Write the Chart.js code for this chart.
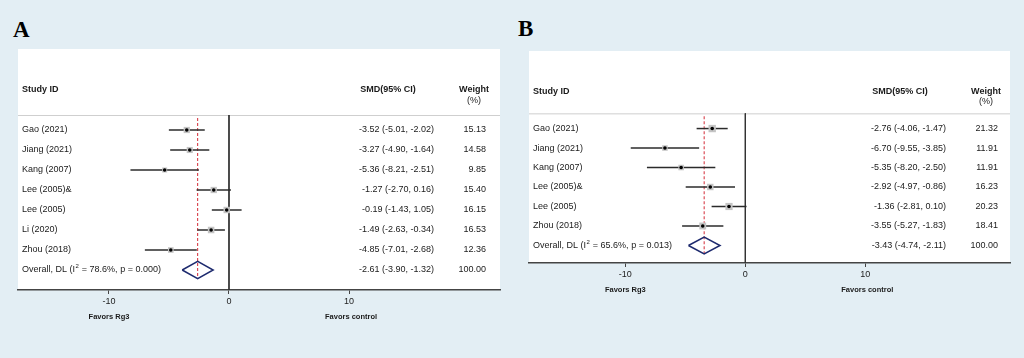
<!DOCTYPE html>
<html>
<head>
<meta charset="utf-8">
<script src="https://cdn.jsdelivr.net/npm/chart.js@4/dist/chart.umd.min.js"></script>
<style>
  body{margin:0;background:#e3eef4;width:1024px;height:358px;overflow:hidden;position:relative}
  canvas{position:absolute;top:0}
  .tag{position:absolute;font-family:"Liberation Serif",serif;font-weight:bold;font-size:23px;color:#000}
</style>
</head>
<body>
<div class="tag" style="left:13px;top:17px">A</div>
<div class="tag" style="left:518px;top:16px">B</div>
<canvas id="chartA" width="512" height="358" style="left:0"></canvas>
<canvas id="chartB" width="512" height="358" style="left:512px"></canvas>
<script>
// panel A
const studiesA=["Gao (2021)","Jiang (2021)","Kang (2007)","Lee (2005)&","Lee (2005)","Li (2020)","Zhou (2018)"]
const smdA=[-3.52,-3.27,-5.36,-1.27,-0.19,-1.49,-4.85]
const lowA=[-5.01,-4.90,-8.21,-2.70,-1.43,-2.63,-7.01]
const highA=[-2.02,-1.64,-2.51,0.16,1.05,-0.34,-2.68]
const weightA=[15.13,14.58,9.85,15.40,16.15,16.53,12.36]
const overallA=[-2.61,-3.90,-1.32]
const hetA=["78.6%","0.000"]

// panel B
const studiesB=["Gao (2021)","Jiang (2021)","Kang (2007)","Lee (2005)&","Lee (2005)","Zhou (2018)"]
const smdB=[-2.76,-6.70,-5.35,-2.92,-1.36,-3.55]
const lowB=[-4.06,-9.55,-8.20,-4.97,-2.81,-5.27]
const highB=[-1.47,-3.85,-2.50,-0.86,0.10,-1.83]
const weightB=[21.32,11.91,11.91,16.23,20.23,18.41]
const overallB=[-3.43,-4.74,-2.11]
const hetB=["65.6%","0.013"]

const xTicks=[-10,0,10]
const sideLabels=["Favors Rg3","Favors control"]

const FONT='"Liberation Sans", Arial, sans-serif'
const fmt=v=>v.toFixed(2)

const tablePlugin={
  id:'table',
  beforeDraw(chart){
    const {ctx,chartArea:a}=chart
    ctx.save()
    ctx.fillStyle='#fff'
    ctx.fillRect(a.left,a.top,a.right-a.left,a.bottom-a.top)
    const y=chart.scales.y.getPixelForValue(chart.options.plugins.table.lineAt)
    ctx.strokeStyle='#cfcfcf'
    ctx.lineWidth=1
    ctx.beginPath();ctx.moveTo(a.left,y+0.5);ctx.lineTo(a.right,y+0.5);ctx.stroke()
    ctx.restore()
  },
  afterDraw(chart){
    const o=chart.options.plugins.table
    const {ctx,chartArea:a}=chart
    const ys=chart.scales.y, xs=chart.scales.x
    ctx.save()
    ctx.fillStyle='#1a1a1a'
    ctx.textBaseline='middle'
    // header
    ctx.font='bold 9px '+FONT
    ctx.textAlign='left'
    ctx.fillText('Study ID',a.left+4,ys.getPixelForValue(o.headAt))
    ctx.textAlign='center'
    ctx.fillText('SMD(95% CI)',388,ys.getPixelForValue(o.headAt))
    ctx.fillText('Weight',474,ys.getPixelForValue(o.headAt))
    ctx.font='9px '+FONT
    ctx.fillText('(%)',474,ys.getPixelForValue(o.headAt+0.55))
    // rows
    ctx.font='9px '+FONT
    o.names.forEach((n,i)=>{
      const y=ys.getPixelForValue(i)
      ctx.textAlign='left'
      ctx.fillText(n,a.left+4,y)
      ctx.textAlign='right'
      ctx.fillText(fmt(o.smd[i])+' ('+fmt(o.low[i])+', '+fmt(o.high[i])+')',434,y)
      ctx.fillText(fmt(o.weight[i]),486,y)
    })
    // overall row
    const n=o.names.length
    const y=ys.getPixelForValue(n)
    ctx.textAlign='left'
    let x=a.left+4
    const p1='Overall, DL (I'
    ctx.fillText(p1,x,y); x+=ctx.measureText(p1).width
    ctx.font='6px '+FONT
    ctx.fillText('2',x+0.5,y-3.5); x+=ctx.measureText('2').width+1
    ctx.font='9px '+FONT
    ctx.fillText(' = '+o.het[0]+', p = '+o.het[1]+')',x,y)
    ctx.textAlign='right'
    ctx.fillText(fmt(o.overall[0])+' ('+fmt(o.overall[1])+', '+fmt(o.overall[2])+')',434,y)
    ctx.fillText('100.00',486,y)
    // favors labels
    ctx.font='bold 7.5px '+FONT
    ctx.textAlign='center'
    ctx.fillText(sideLabels[0],xs.getPixelForValue(xTicks[0]),a.bottom+26.5)
    ctx.fillText(sideLabels[1],xs.getPixelForValue(xTicks[2])+2,a.bottom+26.5)
    ctx.restore()
  }
}

function boxRadius(w){
  // box side grows with sqrt(weight); rect side = radius*sqrt(2)
  return 1.6*Math.sqrt(w)/Math.SQRT2
}

function makePanel(id,names,smd,low,high,weight,overall,het,pad,xMin,xMax,yMin,yMax,axisH,lineAt,headAt){
  const n=names.length
  const ciSets=names.map((s,i)=>({
    data:[{x:low[i],y:i},{x:high[i],y:i}],
    showLine:true,borderColor:'#2b2b2b',borderWidth:1.5,pointRadius:0,order:2
  }))
  const dh=0.43
  const datasets=[
    ...ciSets,
    {data:smd.map((v,i)=>({x:v,y:i})),pointStyle:'rect',pointRadius:weight.map(boxRadius),
      backgroundColor:'#c4c4c4',borderWidth:0,order:1},
    {data:smd.map((v,i)=>({x:v,y:i})),pointStyle:'circle',pointRadius:1.8,
      backgroundColor:'#000',borderWidth:0,order:0},
    {data:[{x:overall[1],y:n},{x:overall[0],y:n-dh},{x:overall[2],y:n},{x:overall[0],y:n+dh},{x:overall[1],y:n}],
      showLine:true,borderColor:'#1d2a6e',borderWidth:1.5,pointRadius:0,order:3},
    {data:[{x:0,y:lineAt},{x:0,y:yMax}],showLine:true,borderColor:'#333',borderWidth:1,pointRadius:0,order:5},
    {data:[{x:overall[0],y:lineAt+0.15},{x:overall[0],y:n+dh}],showLine:true,borderColor:'#d42a36',
      borderWidth:1,borderDash:[3,2],pointRadius:0,order:4}
  ]
  return new Chart(document.getElementById(id),{
    type:'scatter',
    data:{datasets},
    options:{
      responsive:false,animation:false,devicePixelRatio:1,
      layout:{padding:pad},
      plugins:{legend:{display:false},tooltip:{enabled:false},
        table:{names,smd,low,high,weight,overall,het,lineAt,headAt}},
      scales:{
        x:{type:'linear',min:xMin,max:xMax,
          afterBuildTicks:s=>{s.ticks=xTicks.map(v=>({value:v}))},
          afterFit:s=>{s.height=axisH},
          grid:{drawOnChartArea:false,drawTicks:true,tickLength:4,color:'#444'},
          border:{color:'#444',width:1.5},
          ticks:{font:{family:FONT,size:9},color:'#222',padding:2,maxRotation:0}},
        y:{type:'linear',display:false,reverse:true,min:yMin,max:yMax}
      }
    },
    plugins:[tablePlugin]
  })
}

makePanel('chartA',studiesA,smdA,lowA,highA,weightA,overallA,hetA,
  {left:18,right:12,top:49,bottom:0},-17.58,22.58,-4.05,8,68,-0.75,-2)
makePanel('chartB',studiesB,smdB,lowB,highB,weightB,overallB,hetB,
  {left:17,right:14,top:51,bottom:0},-18.03,22.06,-3.98,6.9,95,-0.78,-1.92)
</script>
</body>
</html>
